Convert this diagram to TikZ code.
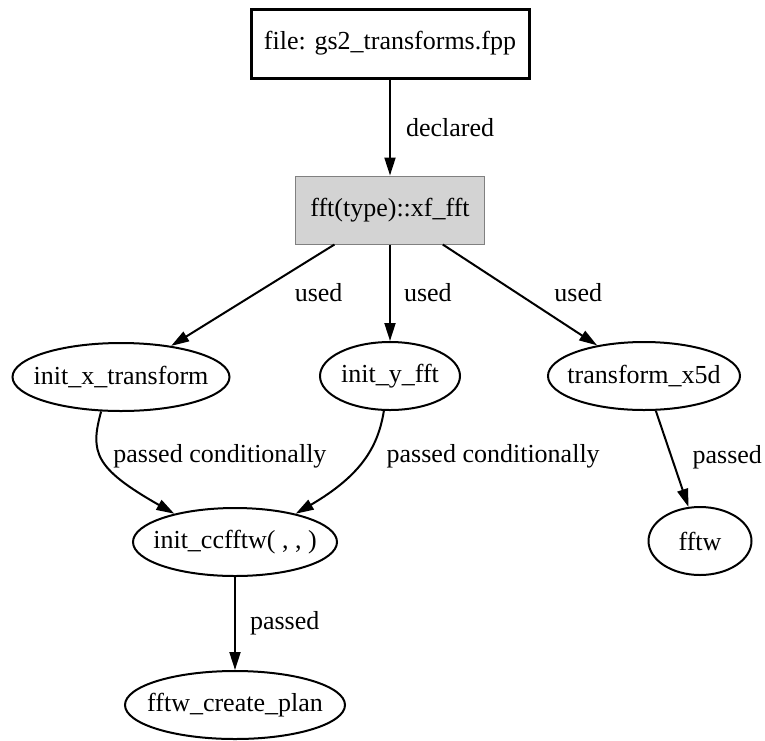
\documentclass[tikz,border=0pt]{standalone}
\usepackage{fontspec}
\setmainfont{Liberation Serif}
\usetikzlibrary{arrows.meta,shapes.geometric}
\definecolor{varfill}{HTML}{D3D3D3}
\definecolor{varline}{HTML}{808080}
\newcommand{\fitlabel}[1]{\makebox[0pt]{#1}}

\tikzstyle{filebox} = [draw, line width=1.5pt, minimum width=139pt, minimum height=34.5pt, inner sep=0pt]
\tikzstyle{varbox} = [draw=varline, fill=varfill, line width=0.5pt, minimum width=94.5pt, minimum height=34pt, inner sep=0pt]
\tikzstyle{proc} = [draw, ellipse, line width=1pt, minimum height=34pt, inner sep=0pt]
\tikzstyle{edge} = [-{Triangle[length=9pt,width=5.5pt]}, line width=1pt]
\tikzstyle{lbl} = [right, inner sep=0pt]

\begin{document}
\begin{tikzpicture}[x=0.5pt, y=-0.5pt, font=\fontsize{13}{15}\selectfont]
  \useasboundingbox (0,0) rectangle (765,740);
  \node (file) at (390,43.5) [filebox] {file: gs2\_transforms.fpp};
  \node (var) at (390,210) [varbox] {fft(type)::xf\_fft};
  \node (ix) at (121,377) [proc, minimum width=108.5pt] {\fitlabel{init\_x\_transform}};
  \node (iy) at (390,376) [proc, minimum width=70pt] {\fitlabel{init\_y\_fft}};
  \node (tx) at (644,376) [proc, minimum width=96pt] {\fitlabel{transform\_x5d}};
  \node (cc) at (235,542) [proc, minimum width=102pt] {\fitlabel{init\_ccfftw( , , )}};
  \node (fftw) at (700,541) [proc, minimum width=51.5pt] {\fitlabel{fftw}};
  \node (plan) at (235,705) [proc, minimum width=110pt] {\fitlabel{fftw\_create\_plan}};
  \draw [edge] (file) to node [lbl, xshift=7.5pt] {declared} (var);
  \draw [edge] (var) to node [lbl, xshift=20.5pt, yshift=1.5pt] {used} (ix);
  \draw [edge] (var) to node [lbl, xshift=6.5pt] {used} (iy);
  \draw [edge] (var) to node [lbl, xshift=16.75pt, yshift=1pt] {used} (tx);
  \draw [edge] (ix.240) .. controls (90,452) and (94,468) .. node [lbl, xshift=4.5pt, yshift=2pt] {passed conditionally} (cc.155);
  \draw [edge] (iy.260) .. controls (378,448) and (360,476) .. node [lbl, xshift=12pt, yshift=3pt] {passed conditionally} (cc.25);
  \draw [edge] (tx) to node [lbl, xshift=9.75pt, yshift=1pt] {passed} (fftw);
  \draw [edge] (cc) to node [lbl, xshift=7pt] {passed} (plan);
\end{tikzpicture}
\end{document}
